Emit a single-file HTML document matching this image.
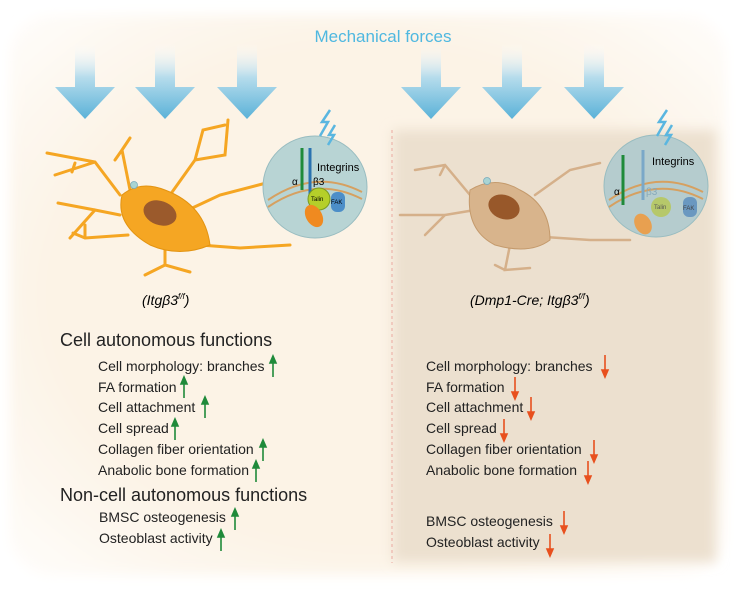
<!DOCTYPE html>
<html><head><meta charset="utf-8"><style>
html,body{margin:0;padding:0;background:#fff}
svg{display:block}
text{font-family:"Liberation Sans",Arial,sans-serif}
</style></head><body>
<svg width="736" height="591" viewBox="0 0 736 591" xmlns="http://www.w3.org/2000/svg">
<defs>
<radialGradient id="bg" cx="0.5" cy="0.5" r="0.75">
<stop offset="0.6" stop-color="#fcf3e6"/><stop offset="1" stop-color="#ffffff"/>
</radialGradient>
<linearGradient id="ar" x1="0" y1="0" x2="0" y2="1">
<stop offset="0" stop-color="#ffffff" stop-opacity="0"/><stop offset="0.45" stop-color="#b6dcec"/><stop offset="1" stop-color="#5ab2d8"/>
</linearGradient>
<filter id="blur"><feGaussianBlur stdDeviation="6"/></filter>
</defs>
<rect width="736" height="591" fill="#fff"/>
<rect x="10" y="15" width="716" height="560" rx="40" fill="url(#bg)" filter="url(#blur)"/>
<rect x="393" y="130" width="323" height="432" fill="#ece0cf" filter="url(#blur)"/>
<line x1="392" y1="130" x2="392" y2="563" stroke="#eba9a0" stroke-width="1" stroke-dasharray="3,3"/>

<text x="383" y="42" font-size="17" fill="#4fb8e0" text-anchor="middle">Mechanical forces</text>

<g fill="url(#ar)">
<path d="M75 43h20v44h20l-30 32l-30-32h20z"/>
<path d="M155 43h20v44h20l-30 32l-30-32h20z"/>
<path d="M237 43h20v44h20l-30 32l-30-32h20z"/>
<path d="M421 43h20v44h20l-30 32l-30-32h20z"/>
<path d="M502 43h20v44h20l-30 32l-30-32h20z"/>
<path d="M584 43h20v44h20l-30 32l-30-32h20z"/>
</g>

<!-- left cell -->
<g stroke="#f5a623" stroke-width="3" fill="none" stroke-linecap="round">
<path d="M120 195 L95 162 L47 153 M75 163 L72 172 M95 162 L55 175"/>
<path d="M120 215 L95 210 L58 203 M95 210 L70 238"/>
<path d="M128 235 L85 238 L73 233 M85 238 L85 225"/>
<path d="M130 190 L122 150 L130 138 M122 150 L115 160"/>
<path d="M170 195 L195 160 L203 130 L225 125 M195 160 L225 155 L228 120"/>
<path d="M188 210 L220 195 L270 182"/>
<path d="M200 245 L240 248 L290 245"/>
<path d="M165 248 L165 265 L190 272 M165 265 L145 275"/>
</g>
<path d="M122 195 Q140 180 165 190 Q205 205 210 245 Q180 258 150 245 Q115 225 122 195Z" fill="#f5a623" stroke="#e39412" stroke-width="1"/>
<ellipse cx="160" cy="213" rx="17" ry="12" fill="#9b5a2c" transform="rotate(20 160 213)"/>
<circle cx="134" cy="185" r="3.5" fill="#a8d4d4" stroke="#7ab" stroke-width="0.8"/>

<!-- right cell -->
<g stroke="#d5b08a" stroke-width="2.5" fill="none" stroke-linecap="round">
<path d="M470 195 L445 165 L415 170 M445 165 L440 175"/>
<path d="M475 210 L445 215 L400 215 M445 215 L425 235"/>
<path d="M535 195 L570 170 L600 163"/>
<path d="M545 237 L590 240 L630 240"/>
<path d="M510 245 L505 270 L530 268 M505 270 L495 265"/>
</g>
<path d="M470 190 Q495 175 520 190 Q550 205 550 240 Q530 255 495 245 Q465 230 470 190Z" fill="#d8b48c" stroke="#c49a6c" stroke-width="1"/>
<ellipse cx="504" cy="207" rx="16" ry="12" fill="#98582a" transform="rotate(20 504 207)"/>
<circle cx="487" cy="181" r="3.5" fill="#a8d4d4" stroke="#7ab" stroke-width="0.8"/>

<!-- left inset -->
<ellipse cx="315" cy="187" rx="52" ry="51" fill="#b8d4d4" stroke="#98bcc0" stroke-width="1"/>
<path d="M268 200 Q315 168 362 192" stroke="#d6a060" stroke-width="2" fill="none"/>
<path d="M268 207 Q315 175 362 199" stroke="#d6a060" stroke-width="2" fill="none"/>
<path d="M302 148 V190" stroke="#1f8a3a" stroke-width="3"/>
<path d="M310 148 V196" stroke="#2a72b0" stroke-width="3"/>
<circle cx="319" cy="199" r="11" fill="#b5cf2a" stroke="#7a9a20"/>
<rect x="331" y="192" width="14" height="20" rx="6" fill="#4c8ec8"/>
<ellipse cx="314" cy="216" rx="8" ry="12" fill="#f08a20" transform="rotate(-30 314 216)"/>
<text x="311" y="201" font-size="6">Talin</text>
<text x="331" y="204" font-size="6">FAK</text>
<text x="317" y="171" font-size="11">Integrins</text>
<text x="292" y="185" font-size="10">α</text><text x="313" y="185" font-size="10">β3</text>
<path d="M330 110 l-8 12 h6 l-8 14 M335 125 l-6 10h5l-6 10" stroke="#5ab6e0" stroke-width="2.5" fill="none"/>

<!-- right inset -->
<ellipse cx="656" cy="186" rx="52" ry="51" fill="#b5ccce" stroke="#98bcc0" stroke-width="1"/>
<path d="M609 200 Q656 168 703 192" stroke="#d6a060" stroke-width="2" fill="none"/>
<path d="M609 207 Q656 175 703 199" stroke="#d6a060" stroke-width="2" fill="none"/>
<path d="M623 155 V205" stroke="#1f8a3a" stroke-width="3"/>
<path d="M643 150 V200" stroke="#7aa8c8" stroke-width="3"/>
<circle cx="661" cy="207" r="10" fill="#b6c86a"/>
<rect x="683" y="197" width="14" height="20" rx="6" fill="#6a98c0"/>
<ellipse cx="643" cy="224" rx="8" ry="11" fill="#e8a050" transform="rotate(-30 643 224)"/>
<text x="654" y="209" font-size="6" fill="#555">Talin</text>
<text x="683" y="210" font-size="6" fill="#444">FAK</text>
<text x="652" y="165" font-size="11">Integrins</text>
<text x="614" y="195" font-size="10">α</text><text x="646" y="195" font-size="10" fill="#8ab">β3</text>
<path d="M667 110 l-8 12 h6 l-8 14 M672 125 l-6 10h5l-6 10" stroke="#5ab6e0" stroke-width="2.5" fill="none"/>

<text x="142" y="305" font-size="14" font-style="italic">(Itgβ3<tspan font-size="8" dy="-6">f/f</tspan><tspan dy="6">)</tspan></text>
<text x="470" y="305" font-size="14" font-style="italic">(Dmp1-Cre; Itgβ3<tspan font-size="8" dy="-6">f/f</tspan><tspan dy="6">)</tspan></text>

<g font-size="18" fill="#222">
<text x="60" y="346">Cell autonomous functions</text>
<text x="60" y="501">Non-cell autonomous functions</text>
</g>
<g font-size="14" fill="#222">
<text x="98" y="371">Cell morphology: branches</text>
<text x="98" y="392">FA formation</text>
<text x="98" y="412">Cell attachment</text>
<text x="98" y="433">Cell spread</text>
<text x="98" y="454">Collagen fiber orientation</text>
<text x="98" y="475">Anabolic bone formation</text>
<text x="99" y="522">BMSC osteogenesis</text>
<text x="99" y="543">Osteoblast activity</text>
<text x="426" y="371">Cell morphology: branches</text>
<text x="426" y="392">FA formation</text>
<text x="426" y="412">Cell attachment</text>
<text x="426" y="433">Cell spread</text>
<text x="426" y="454">Collagen fiber orientation</text>
<text x="426" y="475">Anabolic bone formation</text>
<text x="426" y="526">BMSC osteogenesis</text>
<text x="426" y="547">Osteoblast activity</text>
</g>
<g stroke="#1f8a3a" stroke-width="1.6" fill="#1f8a3a">
<path d="M273 377V362"/><path d="M273 356l-3 7h6z"/>
<path d="M184 398V383"/><path d="M184 377l-3 7h6z"/>
<path d="M205 418V403"/><path d="M205 397l-3 7h6z"/>
<path d="M175 440V425"/><path d="M175 419l-3 7h6z"/>
<path d="M263 461V446"/><path d="M263 440l-3 7h6z"/>
<path d="M256 482V467"/><path d="M256 461l-3 7h6z"/>
<path d="M235 530V515"/><path d="M235 509l-3 7h6z"/>
<path d="M221 551V536"/><path d="M221 530l-3 7h6z"/>
</g>
<g stroke="#e8501e" stroke-width="1.6" fill="#e8501e">
<path d="M605 355V370"/><path d="M605 377l-3 -7h6z"/>
<path d="M515 377V392"/><path d="M515 399l-3 -7h6z"/>
<path d="M531 397V412"/><path d="M531 419l-3 -7h6z"/>
<path d="M504 419V434"/><path d="M504 441l-3 -7h6z"/>
<path d="M594 440V455"/><path d="M594 462l-3 -7h6z"/>
<path d="M588 461V476"/><path d="M588 483l-3 -7h6z"/>
<path d="M564 511V526"/><path d="M564 533l-3 -7h6z"/>
<path d="M550 534V549"/><path d="M550 556l-3 -7h6z"/>
</g>
</svg>
</body></html>
